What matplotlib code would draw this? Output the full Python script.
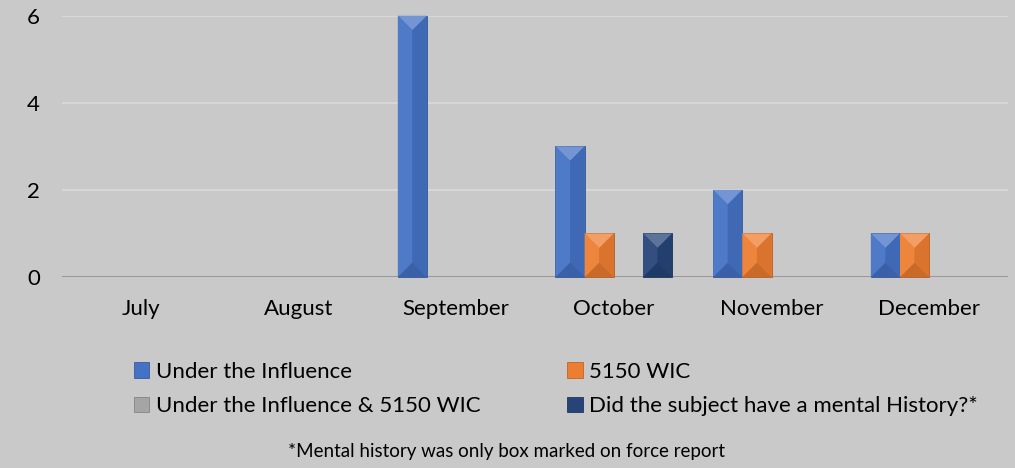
import matplotlib.pyplot as plt
import numpy as np
from matplotlib.patches import Polygon, Patch
from matplotlib.colors import to_rgb

plt.rcParams['font.family'] = ['Lato', 'DejaVu Sans']

# data
months = ['July', 'August', 'September', 'October', 'November', 'December']
under_influence = [0, 0, 6, 3, 2, 1]
wic_5150 = [0, 0, 0, 1, 1, 1]
influence_and_5150 = [0, 0, 0, 0, 0, 0]
mental_history = [0, 0, 0, 1, 0, 0]

series = [
    ('Under the Influence', under_influence, '#4472C4'),
    ('5150 WIC', wic_5150, '#ED7D31'),
    ('Under the Influence & 5150 WIC', influence_and_5150, '#A5A5A5'),
    ('Did the subject have a mental History?*', mental_history, '#264478'),
]

bg = '#C9C9C9'


def shade(color, f):
    c = np.array(to_rgb(color))
    if f > 0:
        return tuple(c + (1 - c) * f)
    return tuple(c * (1 + f))


fig = plt.figure(figsize=(10.15, 4.68), dpi=100)
fig.patch.set_facecolor(bg)
W, H = 1015, 468
ax = fig.add_axes([62 / W, 1 - 277 / H, (1008 - 62) / W, (277 - 15.7) / H])
ax.set_facecolor(bg)

x = np.arange(len(months))
bw = 0.185
ax.set_xlim(-0.5, len(months) - 0.5)
ax.set_ylim(0, 6)

# px per data unit, for the bevel
px_x = (1008 - 62) / len(months)
px_y = (277 - 15.7) / 6

for i, (name, vals, col) in enumerate(series):
    bars = ax.bar(x + (i - 1.5) * bw, vals, bw, color=col,
                  edgecolor=shade(col, -0.25), linewidth=0.6, zorder=3,
                  clip_on=False)
    for b in bars:
        h = b.get_height()
        if h <= 0:
            b.set_visible(False)
            continue
        x0, x1 = b.get_x(), b.get_x() + b.get_width()
        xc = (x0 + x1) / 2
        d_px = min(b.get_width() * px_x / 2, h * px_y / 2)
        dy = d_px / px_y
        faces = [
            ([(x0, h), (x1, h), (xc, h - dy)], shade(col, 0.25)),
            ([(x0, 0), (x1, 0), (xc, dy)], shade(col, -0.15)),
            ([(x0, 0), (x0, h), (xc, h - dy), (xc, dy)], shade(col, 0.06)),
            ([(x1, 0), (x1, h), (xc, h - dy), (xc, dy)], shade(col, -0.08)),
        ]
        for pts, fc in faces:
            ax.add_patch(Polygon(pts, closed=True, facecolor=fc,
                                 edgecolor='none', zorder=3.5, clip_on=False))

ax.set_yticks([0, 2, 4, 6])
ax.yaxis.grid(True, color='#DADADA', linewidth=1.2, zorder=0)
ax.axhline(0, color='#8C8C8C', linewidth=1.2, zorder=2)
ax.set_xticks(x)
ax.set_xticklabels(months)
ax.tick_params(axis='both', length=0, labelsize=16, colors='black')
ax.tick_params(axis='x', pad=15.5)
ax.tick_params(axis='y', pad=16)
for s in ax.spines.values():
    s.set_visible(False)

handles = [Patch(facecolor=c, edgecolor=shade(c, -0.2), linewidth=0.6)
           for _, _, c in series]
labels = [n for n, _, _ in series]
# legend is filled row by row in the original
order = [0, 2, 1, 3]
fig.legend([handles[k] for k in order], [labels[k] for k in order],
           ncol=2, loc='upper left',
           bbox_to_anchor=(118 / W, 1 - 346 / H), frameon=False,
           fontsize=16, handlelength=0.7, handleheight=0.7,
           handletextpad=0.3, columnspacing=3.9, labelspacing=0.67,
           borderpad=0.2)

fig.text(507 / W, 1 - 451 / H,
         '*Mental history was only box marked on force report',
         ha='center', va='center', fontsize=13.5)

fig.savefig('out.png', dpi=100, facecolor=bg)
